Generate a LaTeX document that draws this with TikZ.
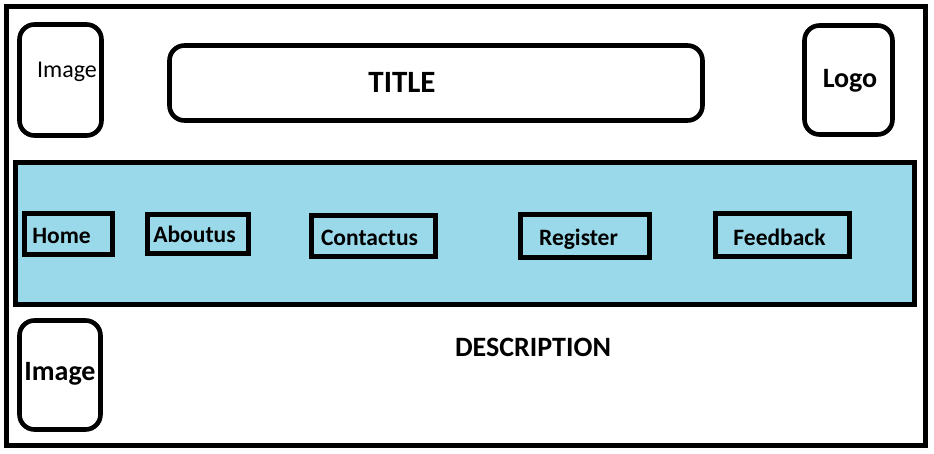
\documentclass[tikz,border=0pt]{standalone}
\usepackage{fontspec}
\setmainfont{Carlito}
\definecolor{navblue}{RGB}{153,217,234}

\begin{document}
\begin{tikzpicture}[x=1pt,y=-1pt]

    \tikzset{
      frame/.style={draw,line width=5pt},
      roundbox/.style={draw,line width=4.6pt,rounded corners=15pt},
      navbox/.style={draw,line width=4.6pt},
      label/.style={anchor=base,inner sep=0pt,font=\bfseries\fontsize{23.5}{26}\selectfont},
      biglabel/.style={anchor=base,inner sep=0pt,font=\bfseries\fontsize{28}{30}\selectfont},
    }
    \useasboundingbox (0,0) rectangle (934,454);
	\draw[frame] (6.5,6.5) rectangle (925.5,445.5);
	% header
	\draw[roundbox] (19.5,24.5) rectangle (101.5,135.5);
	\draw[roundbox] (169.5,45.5) rectangle (702.5,120.5);
	\draw[roundbox] (804.5,25.5) rectangle (892.5,134.5);
	\node[anchor=base,inner sep=0pt,font=\fontsize{24}{26}\selectfont] (imgtop) at (67,78) {Image};
	\node[anchor=base,inner sep=0pt,font=\bfseries\fontsize{31}{33}\selectfont] (title) at (402,93) {TITLE};
	\node[biglabel] (logo) at (850,88) {Logo};
	% menu bar
	\draw[frame,fill=navblue] (15.5,162.5) rectangle (914.5,304.5);
	\draw[navbox] (24.5,213.5) rectangle (112.5,254.5);
	\draw[navbox] (147.5,214.5) rectangle (248.5,253.5);
	\draw[navbox] (311.5,215.5) rectangle (435.5,256.5);
	\draw[navbox] (520.5,214.5) rectangle (649.5,257.5);
	\draw[navbox] (715.5,213.5) rectangle (849.5,256.5);
	\node[label] (home) at (61.5,243.5) {Home};
	\node[label] (about) at (194.5,243) {Aboutus};
	\node[label] (contact) at (369.5,246) {Contactus};
	\node[label] (register) at (578.5,246) {Register};
	\node[label] (feedback) at (779.5,245.5) {Feedback};
	% body
	\draw[roundbox] (19.5,320.5) rectangle (100.5,429.5);
	\node[biglabel] (imgbottom) at (60,380) {Image};
	\node[biglabel] (desc) at (533,356) {DESCRIPTION};

\end{tikzpicture}
\end{document}
